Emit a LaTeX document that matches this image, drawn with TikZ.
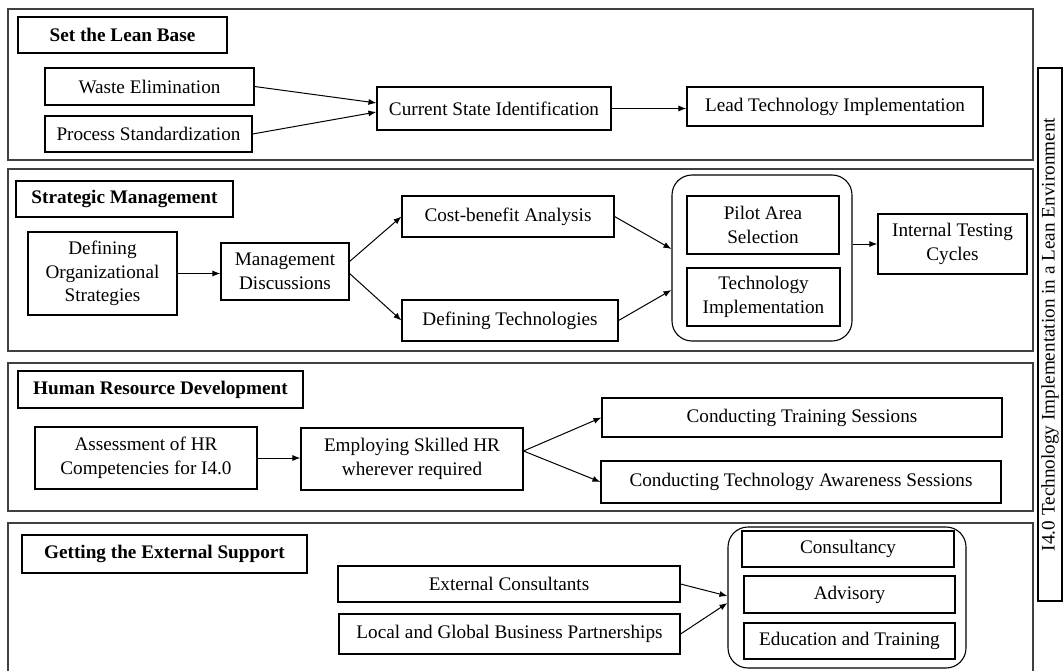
\documentclass[tikz,border=0pt]{standalone}
\usepackage{fontspec}
\setmainfont{Liberation Serif}
\usepackage{xcolor}
\usepackage{tikz}
\usetikzlibrary{arrows.meta}

\begin{document}
\begin{tikzpicture}[
	x=1pt, y=-1pt,
	font=\fontsize{19.2}{23.5}\selectfont,
	every node/.style={draw, line width=1.1pt, align=center, inner sep=1pt},
	title/.style={font=\fontsize{19.2}{23.5}\selectfont\bfseries},
	group/.style={rounded corners=20pt},
	frame/.style={draw=black!75, line width=1.2pt},
	link/.style={
		draw,
		->, line width=1pt, >={Latex[length=8pt,width=6pt]}
	}
	]
	\useasboundingbox (0,0) rectangle (1064,671);

	\draw[frame] (8,9) rectangle (1033,160);
	\draw[frame] (8,169) rectangle (1033,351);
	\draw[frame] (8,363) rectangle (1033,511);
	\draw[frame] (8,671) |- (1033,523) -- (1033,671);

	\node[title, minimum width=209, minimum height=36] (leanbase) at (122.5,35) {Set the Lean Base};
	\node[minimum width=209, minimum height=37] (waste) at (149.5,86.5) {Waste Elimination};
	\node[minimum width=207, minimum height=36] (process) at (148.5,134) {Process Standardization};
	\node[minimum width=234, minimum height=43] (current) at (494,108.5) {Current State Identification};
	\node[minimum width=296, minimum height=39] (lead) at (835,106.5) {Lead Technology Implementation};

	\node[title, minimum width=217, minimum height=36] (strategic) at (124.5,199) {Strategic Management};
	\node[minimum width=149, minimum height=83] (deforg) at (102.5,273.5) {Defining\\Organizational\\Strategies};
	\node[minimum width=128, minimum height=57] (mgmt) at (285,271.5) {Management\\Discussions};
	\node[minimum width=212, minimum height=41] (costben) at (508,216.5) {Cost-benefit Analysis};
	\node[minimum width=216, minimum height=41] (deftech) at (510,320.5) {Defining Technologies};
	\node[group, minimum width=180, minimum height=166] (pilotgroup) at (762,258) {};
	\node[minimum width=152, minimum height=58] (pilot) at (763,225) {Pilot Area\\Selection};
	\node[minimum width=153, minimum height=58] (techimpl) at (763.5,297) {Technology\\Implementation};
	\node[minimum width=149, minimum height=60] (testing) at (952.5,244) {Internal Testing\\Cycles};

	\node[title, minimum width=285, minimum height=37] (hrdev) at (160.5,389.5) {Human Resource Development};
	\node[minimum width=222, minimum height=62] (assess) at (146,458) {Assessment of HR\\Competencies for I4.0};
	\node[minimum width=222, minimum height=62] (employ) at (412,459) {Employing Skilled HR\\wherever required};
	\node[minimum width=400, minimum height=39] (training) at (802,417.5) {Conducting Training Sessions};
	\node[minimum width=400, minimum height=42] (awareness) at (801,482) {Conducting Technology Awareness Sessions};

	\node[title, minimum width=285, minimum height=38] (support) at (164.5,554) {Getting the External Support};
	\node[minimum width=342, minimum height=36] (extcons) at (509,584) {External Consultants};
	\node[minimum width=341, minimum height=40] (partners) at (509.5,634) {Local and Global Business Partnerships};
	\node[group, minimum width=238, minimum height=141] (helpgroup) at (847,597.5) {};
	\node[minimum width=212, minimum height=36] (consult) at (848,549) {Consultancy};
	\node[minimum width=211, minimum height=37] (advisory) at (849.5,594.5) {Advisory};
	\node[minimum width=211, minimum height=36] (education) at (849.5,641) {Education and Training};

	\node[rotate=90, minimum width=533, minimum height=24] (side) at (1050,334.5) {I4.0 Technology Implementation in a Lean Environment};

	\draw[link] (waste.east) -- ([yshift=5.5pt]current.west);
	\draw[link] (process.east) -- ([yshift=-3.5pt]current.west);
	\draw[link] (current.east) -- (current.east -| lead.west);

	\draw[link] (deforg.east) -- (deforg.east -| mgmt.west);
	\draw[link] ([yshift=10pt]mgmt.east) -- (costben.west);
	\draw[link] ([yshift=-2pt]mgmt.east) -- (deftech.west);
	\draw[link] (costben.east) -- ([yshift=9pt]pilotgroup.west);
	\draw[link] (deftech.east) -- ([yshift=-32pt]pilotgroup.west);
	\draw[link] (testing.west -| pilotgroup.east) -- (testing.west);

	\draw[link] (assess.east) -- (assess.east -| employ.west);
	\draw[link] ([yshift=8pt]employ.east) -- (training.west);
	\draw[link] ([yshift=8pt]employ.east) -- (awareness.west);

	\draw[link] (extcons.east) -- ([yshift=1.5pt]helpgroup.west);
	\draw[link] (partners.east) -- ([yshift=-5.5pt]helpgroup.west);
\end{tikzpicture}
\end{document}
